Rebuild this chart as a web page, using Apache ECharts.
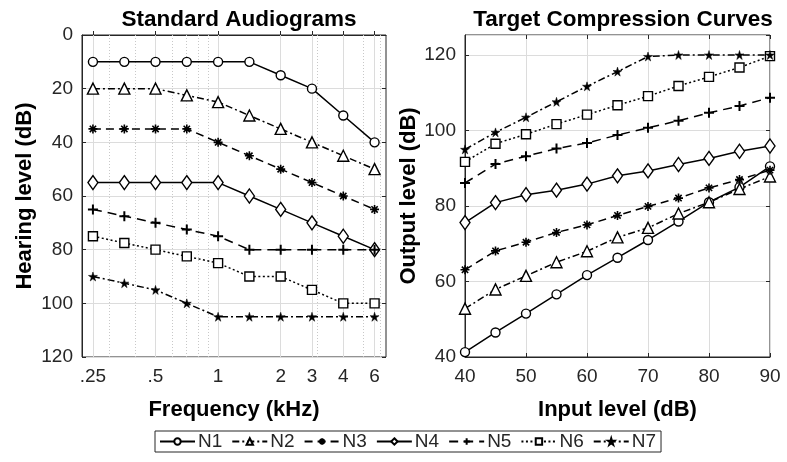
<!DOCTYPE html>
<html>
<head>
<meta charset="utf-8">
<script src="https://cdn.jsdelivr.net/npm/echarts@6/dist/echarts.min.js"></script>
<style>
  html, body { margin: 0; padding: 0; background: #fff; }
  #chart { width: 787px; height: 462px; }
</style>
</head>
<body>
<div id="chart"></div>
<script>
// Audiogram frequencies (kHz), plotted at half-octave steps
const freqKHz = [0.25, 0.354, 0.5, 0.707, 1, 1.414, 2, 2.828, 4, 5.657];
const freqTickValues = [0.25, 0.5, 1, 2, 2.828, 4, 5.657];
const freqTickLabels = ['.25', '.5', '1', '2', '3', '4', '6'];
const freqMinorGrid = [0.3, 0.4, 0.6, 0.7, 0.8, 0.9, 3, 5, 6];

// Hearing level (dB HL) of the standard audiograms N1..N7
const hlN1 = [10, 10, 10, 10, 10, 10, 15, 20, 30, 40];
const hlN2 = [20, 20, 20, 22.5, 25, 30, 35, 40, 45, 50];
const hlN3 = [35, 35, 35, 35, 40, 45, 50, 55, 60, 65];
const hlN4 = [55, 55, 55, 55, 55, 60, 65, 70, 75, 80];
const hlN5 = [65, 67.5, 70, 72.5, 75, 80, 80, 80, 80, 80];
const hlN6 = [75, 77.5, 80, 82.5, 85, 90, 90, 95, 100, 100];
const hlN7 = [90, 92.5, 95, 100, 105, 105, 105, 105, 105, 105];

// Input level (dB) for the compression curves
const inputLevels = [40, 45, 50, 55, 60, 65, 70, 75, 80, 85, 90];

// Output level (dB) of the target compression curves N1..N7
const outN1 = [41.3, 46.5, 51.5, 56.6, 61.7, 66.3, 71.0, 75.9, 81.0, 85.0, 90.5];
const outN2 = [52.8, 57.9, 61.5, 65.1, 68.0, 71.7, 74.2, 78.0, 81.0, 84.5, 87.8];
const outN3 = [63.1, 68.1, 70.4, 73.0, 75.0, 77.5, 79.9, 82.1, 84.8, 87.0, 89.5];
const outN4 = [75.6, 80.9, 83.0, 84.2, 85.8, 88.0, 89.3, 91.0, 92.6, 94.5, 95.9];
const outN5 = [86.1, 91.1, 93.2, 95.2, 96.7, 98.8, 100.7, 102.6, 104.7, 106.5, 108.7];
const outN6 = [91.7, 96.5, 99.0, 101.7, 104.2, 106.7, 109.1, 111.8, 114.2, 116.7, 119.7];
const outN7 = [95.0, 99.5, 103.5, 107.6, 111.7, 115.6, 119.6, 120, 120, 120, 120];

const seriesNames = ['N1', 'N2', 'N3', 'N4', 'N5', 'N6', 'N7'];
const hlData = [hlN1, hlN2, hlN3, hlN4, hlN5, hlN6, hlN7];
const outData = [outN1, outN2, outN3, outN4, outN5, outN6, outN7];

const FONT = '"Liberation Sans", Arial, Helvetica, sans-serif';
const INK = '#262626';

const starPath = 'path://M50,0L61,35L98,35L68,57L79,92L50,70L21,92L32,57L2,35L39,35Z';
const asteriskPath = 'path://M5,0L5,10M0,5L10,5M1.5,1.5L8.5,8.5M1.5,8.5L8.5,1.5';
const plusPath = 'path://M5,0L5,10M0,5L10,5';

// Marker and line style for each curve
const styles = [
  { symbol: 'circle', size: 9, dash: 'solid', open: true },
  { symbol: 'triangle', size: 11, dash: [7, 3, 2, 3], open: true },
  { symbol: asteriskPath, size: 9, dash: [8, 5], open: false, stroke: 1.6 },
  { symbol: 'diamond', size: [10, 14], dash: 'solid', open: true },
  { symbol: plusPath, size: 10, dash: [9, 6], open: false, stroke: 2 },
  { symbol: 'rect', size: 9, dash: [2, 2.5], open: true },
  { symbol: starPath, size: 9, dash: [7, 3, 2, 3], open: false, filled: true }
];

function makeSeries(name, idx, xs, ys, axisIdx) {
  const s = styles[idx];
  return {
    name: name,
    type: 'line',
    xAxisIndex: axisIdx,
    yAxisIndex: axisIdx,
    data: xs.map((x, i) => [x, ys[i]]),
    symbol: s.symbol,
    symbolSize: s.size,
    showAllSymbol: true,
    z: 5,
    lineStyle: { color: '#000', width: 1.5, type: s.dash },
    itemStyle: s.filled
      ? { color: '#000', borderColor: '#000', borderWidth: 0.5 }
      : s.open
        ? { color: '#fff', borderColor: '#000', borderWidth: 1.4 }
        : { color: 'none', borderColor: '#000', borderWidth: s.stroke },
    emphasis: { disabled: true },
    animation: false
  };
}

const series = [];
seriesNames.forEach((n, i) => series.push(makeSeries(n, i, freqKHz, hlData[i], 0)));
seriesNames.forEach((n, i) => series.push(makeSeries(n, i, inputLevels, outData[i], 1)));

// Grid lines of the frequency axis (major solid, minor dotted)
series.push({
  name: 'freqGrid',
  type: 'line',
  xAxisIndex: 0,
  yAxisIndex: 0,
  data: [],
  z: 1,
  silent: true,
  animation: false,
  markLine: {
    silent: true,
    symbol: 'none',
    label: { show: false },
    animation: false,
    data: freqTickValues.map(v => ({ xAxis: v, lineStyle: { color: '#dcdcdc', width: 1, type: 'solid' } }))
      .concat(freqMinorGrid.map(v => ({ xAxis: v, lineStyle: { color: '#c8c8c8', width: 1, type: [1, 2] } })))
  }
});

const axisLineStyle = { lineStyle: { color: INK, width: 1 } };
const tickLabel = { color: INK, fontSize: 19, fontFamily: FONT };
const nameText = { color: '#000', fontSize: 22, fontWeight: 'bold', fontFamily: FONT };
const titleText = { fontSize: 22.5, fontWeight: 'bold', color: '#000', fontFamily: FONT };
const innerTick = { show: true, inside: true, length: 4, lineStyle: { color: INK } };

// Mirror axes carrying the inside ticks on the top and right of each box
const mirrorAxis = { axisLine: { show: false }, axisLabel: { show: false }, splitLine: { show: false } };

const option = {
  animation: false,
  backgroundColor: '#fff',
  title: [
    { text: 'Standard Audiograms', left: 234, top: 3, textAlign: 'center', textStyle: titleText },
    { text: 'Target Compression Curves', left: 618, top: 3, textAlign: 'center', textStyle: titleText }
  ],
  legend: {
    data: seriesNames,
    left: 155,
    top: 431,
    itemWidth: 35,
    itemHeight: 8,
    itemGap: 9,
    padding: [1, 5, 1, 4],
    borderColor: INK,
    borderWidth: 1,
    textStyle: { fontSize: 19, color: INK, fontFamily: FONT, padding: [0, 0, 0, -2] },
    selectedMode: false
  },
  grid: [
    { left: 82, top: 35, width: 304, height: 322, show: true, borderColor: INK, borderWidth: 1 },
    { left: 465, top: 35, width: 305, height: 322, show: true, borderColor: INK, borderWidth: 1 }
  ],
  xAxis: [
    {
      type: 'log', logBase: 10, gridIndex: 0, min: 0.2215, max: 6.42,
      name: 'Frequency (kHz)', nameLocation: 'middle', nameGap: 42, nameTextStyle: nameText,
      axisLine: axisLineStyle,
      axisTick: Object.assign({ customValues: freqTickValues }, innerTick),
      axisLabel: Object.assign({ margin: 10, customValues: freqTickValues,
        formatter: v => {
          const k = freqTickValues.findIndex(t => Math.abs(t - v) < 1e-6);
          return k >= 0 ? freqTickLabels[k] : '';
        } }, tickLabel),
      splitLine: { show: false },
      minorTick: { show: false },
      minorSplitLine: { show: false }
    },
    {
      type: 'value', gridIndex: 1, min: 40, max: 90, interval: 10,
      name: 'Input level (dB)', nameLocation: 'middle', nameGap: 42, nameTextStyle: nameText,
      axisLine: axisLineStyle,
      axisTick: innerTick,
      axisLabel: Object.assign({ margin: 10 }, tickLabel),
      splitLine: { show: true, lineStyle: { color: '#dcdcdc', width: 1 } }
    },
    Object.assign({
      type: 'log', logBase: 10, gridIndex: 0, min: 0.2215, max: 6.42, position: 'top',
      axisTick: Object.assign({ customValues: freqTickValues }, innerTick)
    }, mirrorAxis),
    Object.assign({
      type: 'value', gridIndex: 1, min: 40, max: 90, interval: 10, position: 'top',
      axisTick: innerTick
    }, mirrorAxis)
  ],
  yAxis: [
    {
      type: 'value', gridIndex: 0, min: 0, max: 120, interval: 20, inverse: true,
      name: 'Hearing level (dB)', nameLocation: 'middle', nameGap: 46, nameTextStyle: nameText,
      axisLine: axisLineStyle,
      axisTick: innerTick,
      axisLabel: Object.assign({ margin: 9 }, tickLabel),
      splitLine: { show: true, lineStyle: { color: '#dcdcdc', width: 1 } }
    },
    {
      type: 'value', gridIndex: 1, min: 40, max: 125.3, interval: 20,
      name: 'Output level (dB)', nameLocation: 'middle', nameGap: 40, nameTextStyle: nameText,
      axisLine: axisLineStyle,
      axisTick: innerTick,
      axisLabel: Object.assign({ margin: 9, showMaxLabel: false,
        formatter: v => (Math.abs(v % 20) < 1e-6 ? String(v) : '') }, tickLabel),
      splitLine: { show: true, lineStyle: { color: '#dcdcdc', width: 1 } }
    },
    Object.assign({
      type: 'value', gridIndex: 0, min: 0, max: 120, interval: 20, inverse: true, position: 'right',
      axisTick: innerTick
    }, mirrorAxis),
    Object.assign({
      type: 'value', gridIndex: 1, min: 40, max: 125.3, interval: 20, position: 'right',
      axisTick: innerTick
    }, mirrorAxis)
  ],
  series: series
};

const chart = echarts.init(document.getElementById('chart'), null, { renderer: 'canvas' });
chart.setOption(option);
</script>
</body>
</html>
